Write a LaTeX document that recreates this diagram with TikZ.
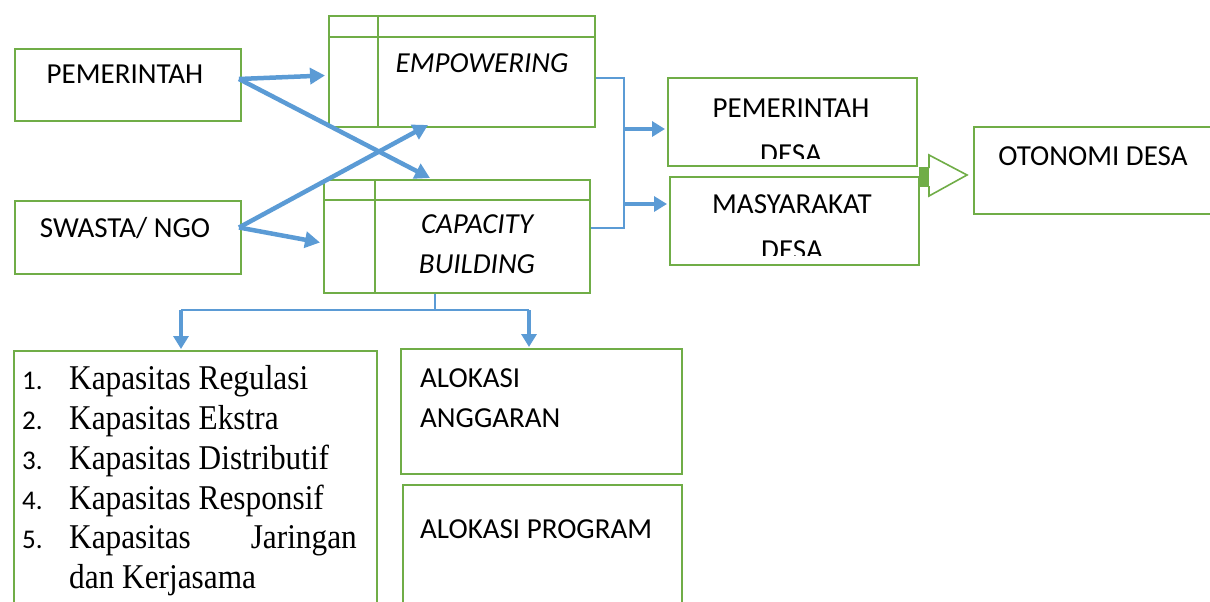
\documentclass[tikz,border=0pt]{standalone}
\usepackage{fontspec}
\setmainfont{Carlito}
\newfontfamily\serifx{Liberation Serif}
\usetikzlibrary{arrows.meta,calc}
\definecolor{gbox}{HTML}{70AD47}
\definecolor{barrow}{HTML}{5B9BD5}
\newcommand{\tallx}[1]{\scalebox{1}[1.11]{#1}}
\begin{document}
\begin{tikzpicture}[x=1pt,y=-1pt,
  box/.style={draw=gbox, line width=2pt, rectangle, anchor=north west, inner sep=0pt},
  lbl/.style={anchor=base, inner sep=0pt, font=\fontsize{29}{33}\selectfont},
  lbll/.style={anchor=base west, inner sep=0pt, font=\fontsize{29}{33}\selectfont},
  ilbl/.style={anchor=base, inner sep=0pt, font=\itshape\fontsize{29}{33}\selectfont},
  litem/.style={anchor=base west, inner sep=0pt, font=\serifx\fontsize{31.3}{36}\selectfont},
  lnum/.style={anchor=base west, inner sep=0pt, font=\fontsize{27}{30}\selectfont},
  conn/.style={draw=barrow, line width=2pt},
  bigarrow/.style={draw=barrow, line width=4.5pt, -{Triangle[length=15pt,width=16pt]}},
  midarrow/.style={draw=barrow, line width=4.2pt, -{Triangle[length=13pt,width=15pt]}},
  inner/.style={draw=gbox, line width=2pt},
]
\useasboundingbox (0,0) rectangle (1210,602);
\begin{scope}
\clip (0,0) rectangle (1210,602);
% boxes
\node[box, minimum width=226pt, minimum height=72pt] (pem) at (14,48) {};
\node[box, minimum width=226pt, minimum height=73pt] (swa) at (14,200) {};
\node[box, minimum width=266pt, minimum height=111pt] (emp) at (328,15) {};
\node[box, minimum width=266pt, minimum height=113pt] (cap) at (323,179) {};
\node[box, minimum width=249pt, minimum height=88pt] (pdesa) at (667,77) {};
\node[box, minimum width=249pt, minimum height=88pt] (mdesa) at (669,176) {};
\node[box, minimum width=245pt, minimum height=87pt] (oto) at (973,126) {};
\node[box, minimum width=363pt, minimum height=270pt] (list) at (13,350) {};
\node[box, minimum width=281pt, minimum height=125pt] (angg) at (400,348) {};
\node[box, minimum width=279pt, minimum height=135pt] (prog) at (402,484) {};
% inner lines of the table-like boxes
\draw[inner] (emp.north west |- 0,37) -- (emp.north east |- 0,37);
\draw[inner] (emp.north west -| 378,0) -- (emp.south west -| 378,0);
\draw[inner] (cap.north west |- 0,200) -- (cap.north east |- 0,200);
\draw[inner] (cap.north west -| 375,0) -- (cap.south west -| 375,0);
% labels
\node[lbl] (tpem) at (125,83) {PEMERINTAH};
\node[lbl] (tswa) at (125,237) {SWASTA/ NGO};
\node[ilbl] (temp) at (482,73) {EMPOWERING};
\node[ilbl] (tcap1) at (477,233) {CAPACITY};
\node[ilbl] (tcap2) at (477,273) {BUILDING};
\node[lbl] (tpd1) at (791,117) {PEMERINTAH};
\begin{scope}
\clip ($(pdesa.north west)$) rectangle ($(pdesa.south east)+(0,-9)$);
\node[lbl] (tpd2) at (791,163) {DESA};
\end{scope}
\node[lbl] (tmd1) at (792,213) {MASYARAKAT};
\begin{scope}
\clip ($(mdesa.north west)$) rectangle ($(mdesa.south east)+(0,-11)$);
\node[lbl] (tmd2) at (792,259) {DESA};
\end{scope}
\node[lbl] (toto) at (1093,165) {OTONOMI DESA};
\node[lbll] (tal1) at (420,387) {ALOKASI};
\node[lbll] (tal2) at (420,427) {ANGGARAN};
\node[lbll] (tprog) at (420,538) {ALOKASI PROGRAM};
% list
\node[lnum] (n1) at (22,389) {1.};
\node[litem] (l1) at (69,389) {\tallx{Kapasitas Regulasi}};
\node[lnum] (n2) at (22,429) {2.};
\node[litem] (l2) at (69,429) {\tallx{Kapasitas Ekstra}};
\node[lnum] (n3) at (22,469) {3.};
\node[litem] (l3) at (69,469) {\tallx{Kapasitas Distributif}};
\node[lnum] (n4) at (22,509) {4.};
\node[litem] (l4) at (69,509) {\tallx{Kapasitas Responsif}};
\node[lnum] (n5) at (22,548) {5.};
\node[litem] (l5a) at (69,548) {\tallx{Kapasitas}};
\node[litem, anchor=base east] (l5b) at (357,548) {\tallx{Jaringan}};
\node[litem] (l6) at (69,588) {\tallx{dan Kerjasama}};
% connectors left -> middle
\coordinate (pemout) at ($(pem.east)+(-3,-6)$);
\coordinate (swaout) at ($(swa.east)+(-3,-10)$);
\draw[bigarrow] (pemout) -- ($(emp.west)+(-3,4)$);
\draw[bigarrow] (pemout) -- ($(cap.north)+(-27,-1)$);
\draw[bigarrow] (swaout) -- ($(emp.south)+(-34,-3)$);
\draw[bigarrow] (swaout) -- ($(cap.west)+(-3,6)$);
% right bus
\coordinate (empR) at ($(emp.east)+(0,6.5)$);
\coordinate (capR) at ($(cap.east)+(0,-8.5)$);
\draw[conn] (empR) -- ++(28,0) coordinate (bustop) |- (capR);
\coordinate (pdin) at ($(pdesa.west)+(-2,7)$);
\coordinate (mdin) at ($(mdesa.west)+(-2,-17)$);
\draw[midarrow] (bustop |- pdin) -- (pdin);
\draw[midarrow] (bustop |- mdin) -- (mdin);
% bottom fan-out
\coordinate (capS) at ($(cap.south)+(-22,0)$);
\coordinate (hl) at (181,310);
\coordinate (hr) at (529,310);
\draw[conn] (capS) -- (capS |- hl);
\draw[conn] (hl) -- (hr);
\draw[midarrow] (hl) -- ($(hl |- list.north)+(0,-1)$);
\draw[midarrow] (hr) -- ($(hr |- angg.north)+(0,-1)$);
% hollow block arrow to OTONOMI DESA
\fill[gbox] (919,168) rectangle (929,186);
\draw[gbox, line width=1.6pt, fill=white] (929,168) -- (929,155) -- (967,175) -- (929,196) -- (929,186);
\draw[gbox, line width=1.6pt] (919,168) -- (929,168) (919,186) -- (929,186);
\end{scope}
\end{tikzpicture}
\end{document}
